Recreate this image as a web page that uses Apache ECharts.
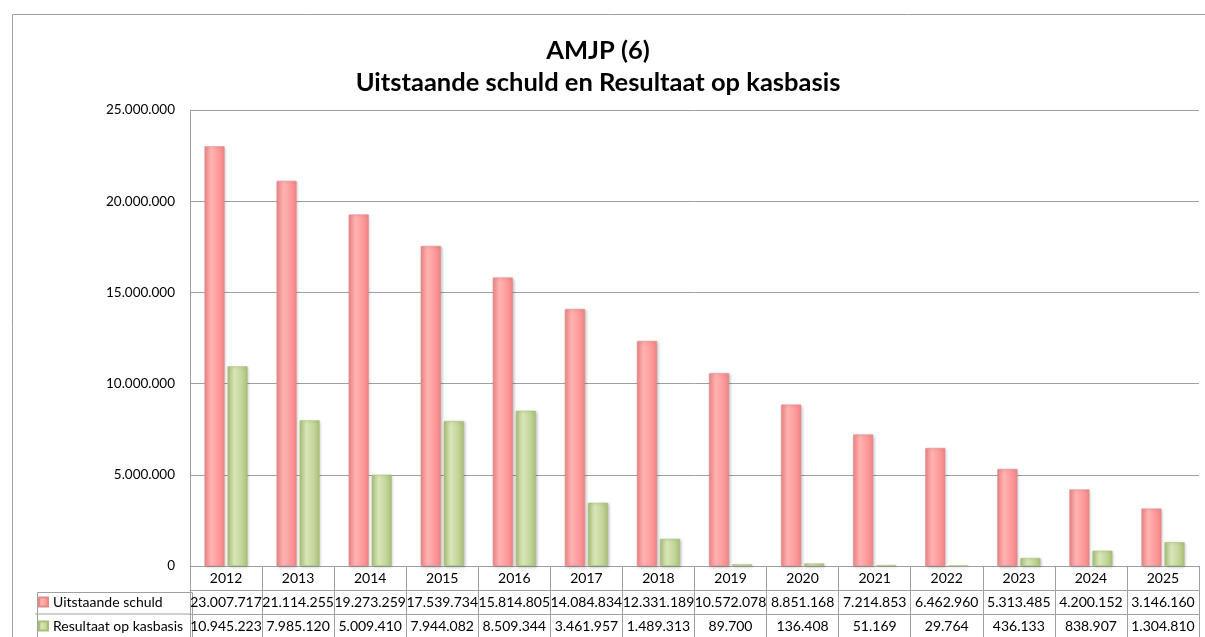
<!DOCTYPE html>
<html lang="nl">
<head>
    <meta charset="UTF-8">
    <title>AMJP (6)</title>
    <script src="https://cdn.jsdelivr.net/npm/echarts@6/dist/echarts.min.js"></script>
    <style>
        html, body {margin: 0; padding: 0; background: #fff;}
        #main {width: 1205px; height: 637px;}
    </style>
</head>
<body>
<div id="main"></div>
<script>
    var years = ['2012','2013','2014','2015','2016','2017','2018','2019','2020','2021','2022','2023','2024','2025'];
    var schuld = [23007717, 21114255, 19273259, 17539734, 15814805, 14084834, 12331189, 10572078, 8851168, 7214853, 6462960, 5313485, 4200152, 3146160];
    var resultaat = [10945223, 7985120, 5009410, 7944082, 8509344, 3461957, 1489313, 89700, 136408, 51169, 29764, 436133, 838907, 1304810];
    var yTicks = [0, 5000000, 10000000, 15000000, 20000000, 25000000];

    function fmt(v) {
        return String(v).replace(/\B(?=(\d{3})+(?!\d))/g, '.');
    }

    var font = 'Lato, "Open Sans", sans-serif';
    var lineCol = '#a0a0a0';
    var rowH = 24;

    function barColor(dark, mid, light) {
        return new echarts.graphic.LinearGradient(0, 0, 1, 0, [
            {offset: 0, color: dark},
            {offset: 0.35, color: light},
            {offset: 0.7, color: mid},
            {offset: 1, color: dark}
        ]);
    }

    // one legend per table row
    function rowLegend(name, top) {
        return {
            orient: 'vertical',
            left: 38,
            top: top,
            padding: 0,
            itemWidth: 9,
            itemHeight: 9,
            icon: 'rect',
            textStyle: {fontSize: 14, color: '#000', fontFamily: font},
            data: [name]
        };
    }

    var myChart = echarts.init(document.getElementById('main'));
    var option = {
        animation: false,
        textStyle: {fontFamily: font},
        title: {
            text: 'AMJP (6)\nUitstaande schuld en Resultaat op kasbasis',
            left: 593,
            top: 30,
            textAlign: 'center',
            textStyle: {fontSize: 25.5, fontWeight: 'bold', color: '#000', lineHeight: 32, fontFamily: font}
        },
        legend: [
            rowLegend('Uitstaande schuld', 566 + rowH + 5),
            rowLegend('Resultaat op kasbasis', 566 + rowH * 2 + 5)
        ],
        graphic: [
            {type: 'rect', left: 10, top: 12, shape: {width: 1210, height: 640},
                style: {fill: 'none', stroke: lineCol, lineWidth: 1}, silent: true},
            {type: 'rect', left: 35, top: 566 + rowH, shape: {width: 155, height: rowH * 2},
                style: {fill: 'none', stroke: lineCol, lineWidth: 1}, silent: true},
            {type: 'line', shape: {x1: 35, y1: 566 + rowH * 2, x2: 190, y2: 566 + rowH * 2},
                style: {stroke: lineCol, lineWidth: 1}, silent: true}
        ],
        grid: {left: 190, right: 6, top: 110, bottom: 71},
        xAxis: [{
            type: 'category',
            data: years,
            position: 'bottom',
            axisLine: {lineStyle: {color: lineCol}},
            axisTick: {show: true, length: rowH * 3, interval: 0, lineStyle: {color: lineCol}},
            axisLabel: {interval: 0, margin: 5, fontSize: 14, color: '#000'}
        }, {
            type: 'category',
            data: schuld.map(fmt),
            position: 'bottom',
            offset: rowH,
            axisLine: {lineStyle: {color: lineCol}},
            axisTick: {show: false},
            axisLabel: {interval: 0, margin: 5, fontSize: 14, color: '#000'}
        }, {
            type: 'category',
            data: resultaat.map(fmt),
            position: 'bottom',
            offset: rowH * 2,
            axisLine: {lineStyle: {color: lineCol}},
            axisTick: {show: false},
            axisLabel: {interval: 0, margin: 5, fontSize: 14, color: '#000'}
        }, {
            type: 'category',
            data: years,
            position: 'bottom',
            offset: rowH * 3,
            axisLine: {lineStyle: {color: lineCol}},
            axisTick: {show: false},
            axisLabel: {show: false}
        }],
        yAxis: {
            type: 'value',
            min: yTicks[0],
            max: yTicks[yTicks.length - 1],
            interval: 5000000,
            axisLine: {show: true, lineStyle: {color: lineCol}},
            axisTick: {show: false},
            axisLabel: {margin: 15, fontSize: 13.5, color: '#000', formatter: fmt},
            splitLine: {lineStyle: {color: lineCol}}
        },
        series: [{
            name: 'Uitstaande schuld',
            type: 'bar',
            xAxisIndex: 0,
            barWidth: 20,
            barGap: '15%',
            itemStyle: {
                color: barColor('#f08585', '#ff9a9a', '#ffb3b3'),
                borderColor: '#e58a8a',
                borderWidth: 0.5,
                shadowColor: 'rgba(0,0,0,0.25)',
                shadowBlur: 3,
                shadowOffsetX: 1,
                shadowOffsetY: 1
            },
            data: schuld
        }, {
            name: 'Resultaat op kasbasis',
            type: 'bar',
            xAxisIndex: 0,
            barWidth: 20,
            itemStyle: {
                color: barColor('#a9c077', '#c4d79b', '#d8e6b8'),
                borderColor: '#a8bf7a',
                borderWidth: 0.5,
                shadowColor: 'rgba(0,0,0,0.25)',
                shadowBlur: 3,
                shadowOffsetX: 1,
                shadowOffsetY: 1
            },
            data: resultaat
        }]
    };
    myChart.setOption(option);
</script>
</body>
</html>
